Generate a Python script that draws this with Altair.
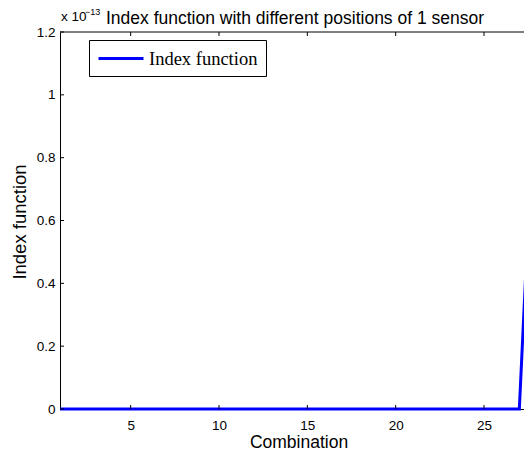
import altair as alt
import pandas as pd

# ---- data ----
COMBINATION = [1, 2, 3, 4, 5, 6, 7, 8, 9, 10, 11, 12, 13, 14,
               15, 16, 17, 18, 19, 20, 21, 22, 23, 24, 25, 26, 27, 28]
# index function values, in units of 1e-13
INDEX_FUNCTION_E13 = [0, 0, 0, 0, 0, 0, 0, 0, 0, 0, 0, 0, 0, 0,
                      0, 0, 0, 0, 0, 0, 0, 0, 0, 0, 0, 0, 0, 1.19]
SERIES = "Index function"
X_TICKS = [5, 10, 15, 20, 25]
Y_TICKS = [0, 0.2, 0.4, 0.6, 0.8, 1.0, 1.2]
X_DOMAIN = [1, 28]
Y_DOMAIN = [0, 1.2]
TITLE = "Index function with different positions of 1 sensor"
X_TITLE = "Combination"
Y_TITLE = "Index function"
EXP_BASE = "x 10"
EXP_POWER = "\u221213"

W, H = 477, 377
SANS = "Liberation Sans"
SERIF = "Liberation Serif"

df = pd.DataFrame({
    "Combination": COMBINATION,
    "value": INDEX_FUNCTION_E13,
    "series": [SERIES] * len(COMBINATION),
})
xt = pd.DataFrame({"Combination": X_TICKS})
yt = pd.DataFrame({"value": Y_TICKS})
one = pd.DataFrame({"k": [0]})

xscale = alt.Scale(domain=X_DOMAIN, nice=False, zero=False)
yscale = alt.Scale(domain=Y_DOMAIN, nice=False, zero=True)

line = alt.Chart(df).mark_line(strokeWidth=3).encode(
    x=alt.X("Combination:Q", scale=xscale, title=X_TITLE,
            axis=alt.Axis(values=X_TICKS, ticks=False, tickSize=0,
                          labelPadding=9, titleX=W / 2, titleY=38,
                          titleBaseline="alphabetic", grid=False)),
    y=alt.Y("value:Q", scale=yscale, title=Y_TITLE,
            axis=alt.Axis(values=Y_TICKS, format="~g", ticks=False,
                          tickSize=0, labelPadding=5, titleX=-31, titleY=H / 2 + 1,
                          titleAngle=-90, titleBaseline="bottom", titleFontSize=18.5,
                          grid=False)),
    color=alt.Color("series:N", scale=alt.Scale(range=["#0000ff"]), title=None,
                    legend=alt.Legend(orient="none", legendX=29, legendY=8,
                                      fillColor="white", strokeColor="black",
                                      padding=8, symbolType="M-2.5,0H2.5",
                                      symbolSize=324, symbolStrokeWidth=3,
                                      symbolFillColor="transparent",
                                      symbolOffset=13.5,
                                      labelFont=SERIF, labelFontSize=18.5,
                                      labelColor="black", labelOffset=17.5)),
)

tick_style = dict(color="black", strokeWidth=1)
ytick_left = alt.Chart(yt).mark_rule(**tick_style).encode(
    y=alt.Y("value:Q", scale=yscale, title=Y_TITLE), x=alt.value(0), x2=alt.value(4))
ytick_right = alt.Chart(yt).mark_rule(**tick_style).encode(
    y=alt.Y("value:Q", scale=yscale, title=Y_TITLE), x=alt.value(W - 4), x2=alt.value(W))
xtick_bottom = alt.Chart(xt).mark_rule(**tick_style).encode(
    x=alt.X("Combination:Q", scale=xscale, title=X_TITLE), y=alt.value(H), y2=alt.value(H - 4))
xtick_top = alt.Chart(xt).mark_rule(**tick_style).encode(
    x=alt.X("Combination:Q", scale=xscale, title=X_TITLE), y=alt.value(0), y2=alt.value(4))
top_border = alt.Chart(one).mark_rule(**tick_style).encode(
    x=alt.value(0), x2=alt.value(W), y=alt.value(0))
right_border = alt.Chart(one).mark_rule(**tick_style).encode(
    x=alt.value(W), y=alt.value(0), y2=alt.value(H))

title_text = alt.Chart(one).mark_text(font=SANS, fontSize=17.5, align="center",
                                       baseline="alphabetic", color="black").encode(
    x=alt.value(235), y=alt.value(-8), text=alt.value(TITLE))
exp_base = alt.Chart(one).mark_text(font=SANS, fontSize=13.5, align="left",
                                     baseline="alphabetic", color="black").encode(
    x=alt.value(1), y=alt.value(-11), text=alt.value(EXP_BASE))
exp_power = alt.Chart(one).mark_text(font=SANS, fontSize=9, align="left",
                                      baseline="alphabetic", color="black").encode(
    x=alt.value(25), y=alt.value(-17), text=alt.value(EXP_POWER))

chart = alt.layer(
    line, ytick_left, ytick_right, xtick_bottom, xtick_top, top_border, right_border,
    title_text, exp_base, exp_power,
).properties(
    width=W, height=H,
    padding={"left": 52, "top": 24, "right": -13, "bottom": 45},
    autosize=alt.AutoSizeParams(type="none"),
).configure_view(
    stroke="transparent"
).configure_axis(
    domainColor="black", domainWidth=1, labelFont=SANS, labelFontSize=13.5,
    labelColor="black", titleFont=SANS, titleFontSize=17.5, titleFontWeight="normal",
    titleColor="black",
)

chart.save("out.html", embed_options={"renderer": "svg", "actions": False})
